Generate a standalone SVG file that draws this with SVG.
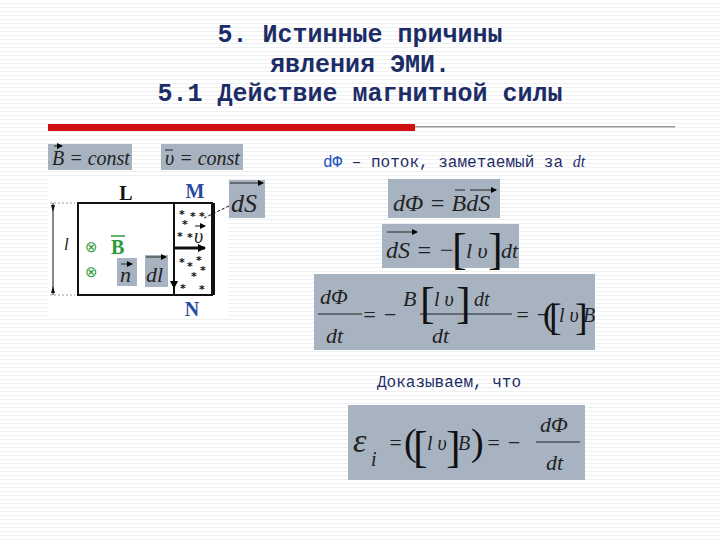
<svg xmlns="http://www.w3.org/2000/svg" width="720" height="540" viewBox="0 0 720 540">
<defs>
<pattern id="st" width="4" height="4" patternUnits="userSpaceOnUse"><rect width="4" height="4" fill="#fff"/><rect y="3" width="4" height="1" fill="#eef0f2"/></pattern>
<marker id="ah" markerWidth="8" markerHeight="8" refX="7" refY="4" orient="auto" markerUnits="userSpaceOnUse"><path d="M0,0L8,4L0,8z" fill="#000"/></marker>
<marker id="sm" markerWidth="6" markerHeight="6" refX="5" refY="3" orient="auto" markerUnits="userSpaceOnUse"><path d="M0,0L6,3L0,6z" fill="#000"/></marker>
<clipPath id="c3"><rect x="314" y="274" width="281" height="76"/></clipPath>
<style>
.t{font-family:"Liberation Mono",monospace;font-weight:bold;font-size:25px;fill:#1c2c66;text-anchor:middle}
.m{font-family:"Liberation Serif",serif;font-style:italic;fill:#222}
.br{font-family:"Liberation Serif",serif;fill:#111}
.box{fill:#a8b3c1}
.b{font-family:"Liberation Mono",monospace;font-size:16px;fill:#1c2c66}
</style>
</defs>
<rect width="720" height="540" fill="url(#st)"/>
<g id="title">
<text class="t" x="360" y="42">5. Истинные причины</text>
<text class="t" x="360" y="72">явления ЭМИ.</text>
<text class="t" x="360" y="101">5.1 Действие магнитной силы</text>
<rect x="48" y="124" width="367" height="7" fill="#d01010"/>
<rect x="415" y="126" width="260" height="1.5" fill="#999"/>
</g>
<g id="consts">
<rect class="box" x="48" y="144" width="84" height="26"/>
<text class="m" x="52" y="165" font-size="20">B = const</text>
<path d="M54,146h8" stroke="#222" stroke-width="1" marker-end="url(#sm)"/>
<rect class="box" x="161" y="144" width="82" height="26"/>
<text class="m" x="165" y="165" font-size="20">υ = const</text>
<path d="M165,150h8" stroke="#222"/>
</g>
<g id="frame">
<rect x="48" y="178" width="180" height="140" fill="#fff"/>
<path d="M213,203H78V295H213" fill="none" stroke="#111" stroke-width="2"/>
<path d="M174,203V295" stroke="#111" stroke-width="2"/>
<path d="M213,203V295" stroke="#111" stroke-width="4"/>
<path d="M53,203V295" stroke="#111" stroke-width="1"/>
<path d="M50,203h25M50,295h25" stroke="#999" stroke-dasharray="2,2"/>
<path d="M53,212l-2,-7l4,0z M53,286l-2,7l4,0z" fill="#111"/>
<text class="m" x="64" y="250" font-size="17">l</text>
<text x="126" y="200" font-family="Liberation Serif,serif" font-weight="bold" font-size="20" fill="#111" text-anchor="middle">L</text>
<text x="195" y="198" font-family="Liberation Serif,serif" font-weight="bold" font-size="20" fill="#2a4aa0" text-anchor="middle">M</text>
<text x="192" y="316" font-family="Liberation Serif,serif" font-weight="bold" font-size="20" fill="#2a4aa0" text-anchor="middle">N</text>
<g fill="#111" font-family="DejaVu Sans,sans-serif" font-size="11" font-weight="bold">
<text x="179" y="218">*</text><text x="190" y="220">*</text><text x="199" y="220">*</text><text x="182" y="228">*</text><text x="177" y="240">*</text><text x="187" y="241">*</text>
<text x="179" y="266">*</text><text x="196" y="264">*</text><text x="187" y="270">*</text><text x="200" y="274">*</text><text x="191" y="280">*</text><text x="180" y="292">*</text><text x="199" y="293">*</text>
</g>
<path d="M174,248H205" stroke="#111" stroke-width="3" marker-end="url(#ah)"/>
<text class="m" x="194" y="243" font-size="20">υ</text>
<path d="M195,226h10" stroke="#111" marker-end="url(#sm)"/>
<path d="M174,262V288" stroke="#111" stroke-width="2" marker-end="url(#ah)"/>
<text x="85" y="252" font-family="DejaVu Sans,sans-serif" font-size="15" fill="#2e9a3e">⊗</text>
<text x="111" y="254" font-family="Liberation Serif,serif" font-weight="bold" font-size="20" fill="#2e9a3e">B</text>
<path d="M111,236h14" stroke="#2e9a3e" stroke-width="1.5"/>
<text x="85" y="277" font-family="DejaVu Sans,sans-serif" font-size="15" fill="#2e9a3e">⊗</text>
<rect class="box" x="117" y="258" width="20" height="28"/>
<text class="m" x="120" y="282" font-size="22">n</text>
<path d="M121,264h11" stroke="#222" marker-end="url(#sm)"/>
<rect class="box" x="145" y="255" width="23" height="32"/>
<text class="m" x="146" y="282" font-size="22">dl</text>
<path d="M146,257h20" stroke="#222" marker-end="url(#sm)"/>
<rect class="box" x="229" y="180" width="36" height="38"/>
<text class="m" x="231" y="212" font-size="26">dS</text>
<path d="M230,183h33" stroke="#222" marker-end="url(#sm)"/>
<path d="M229,206L204,218" stroke="#111" stroke-dasharray="3,2"/>
</g>
<g id="right">
<text class="b" x="323" y="167"><tspan fill="#2050c0">dΦ</tspan> – поток, заметаемый за <tspan font-family="Liberation Serif,serif" font-style="italic" font-size="16">dt</tspan></text>
<rect class="box" x="388" y="179" width="112" height="39"/>
<text class="m" x="393" y="211" font-size="24">dΦ = BdS</text>
<path d="M455,190h10M470,190h26" stroke="#222" marker-end="url(#sm)"/>
<rect class="box" x="382" y="224" width="137" height="44"/>
<text class="m" x="386" y="258" font-size="24">dS = −</text>
<path d="M387,232h30" stroke="#222" marker-end="url(#sm)"/>
<text class="br" x="452" y="264" font-size="44">[</text>
<text class="m" x="466" y="258" font-size="22">l υ</text>
<text class="br" x="488" y="264" font-size="44">]</text>
<text class="m" x="501" y="258" font-size="22">dt</text>
<rect class="box" x="314" y="274" width="281" height="76"/>
<g clip-path="url(#c3)">
<text class="m" x="320" y="304" font-size="22">dΦ</text>
<path d="M318,314h44" stroke="#222"/>
<text class="m" x="326" y="343" font-size="22">dt</text>
<text class="m" x="362" y="322" font-size="22">= −</text>
<text class="m" x="403" y="306" font-size="22">B</text>
<path d="M420,314h92" stroke="#222"/>
<text class="br" x="420" y="318" font-size="44">[</text>
<text class="m" x="434" y="306" font-size="20">l υ</text>
<text class="br" x="456" y="318" font-size="44">]</text>
<text class="m" x="474" y="306" font-size="20">dt</text>
<text class="m" x="432" y="343" font-size="22">dt</text>
<text class="m" x="515" y="322" font-size="22">= −</text>
<text class="br" x="543" y="326" font-size="34">(</text>
<text class="br" x="549" y="330" font-size="38">[</text>
<text class="m" x="559" y="322" font-size="20">l υ</text>
<text class="br" x="575" y="330" font-size="38">]</text>
<text class="m" x="583" y="322" font-size="20">B</text>
</g>
<text class="b" x="377" y="387">Доказываем, что</text>
<rect class="box" x="348" y="405" width="237" height="75"/>
<text class="m" x="353" y="452" font-size="34">ε</text>
<text class="m" x="371" y="466" font-size="20">i</text>
<text class="m" x="388" y="450" font-size="22">=</text>
<text class="br" x="404" y="455" font-size="38">(</text>
<text class="br" x="413" y="462" font-size="44">[</text>
<text class="m" x="427" y="450" font-size="20">l υ</text>
<text class="br" x="446" y="462" font-size="44">]</text>
<text class="m" x="458" y="450" font-size="20">B</text>
<text class="br" x="471" y="455" font-size="38">)</text>
<text class="m" x="486" y="450" font-size="22">= −</text>
<text class="m" x="540" y="432" font-size="22">dΦ</text>
<path d="M536,442h44" stroke="#222"/>
<text class="m" x="546" y="470" font-size="22">dt</text>
</g>
</svg>
